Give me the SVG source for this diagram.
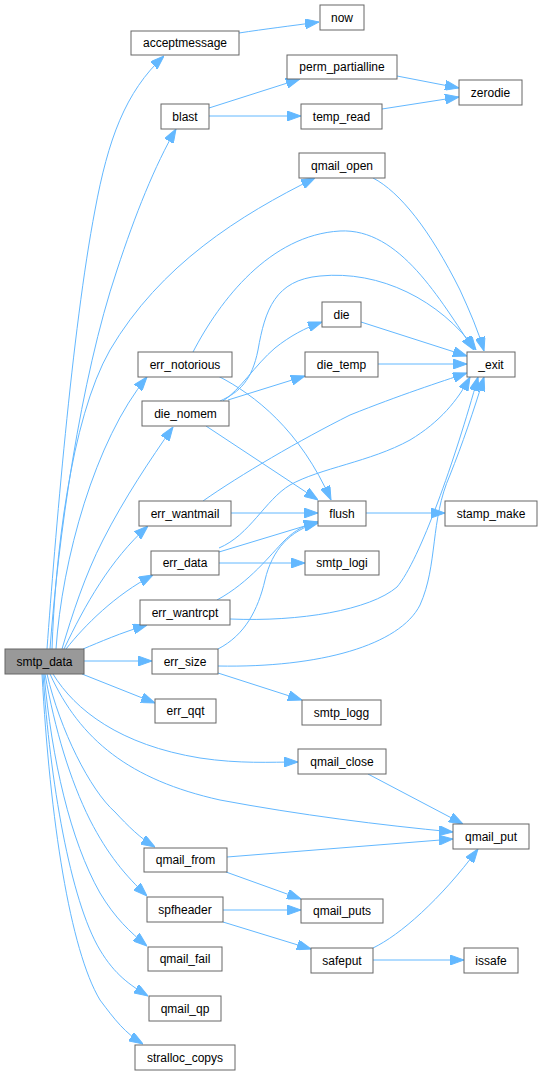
<svg xmlns="http://www.w3.org/2000/svg" width="542" height="1075" viewBox="0 0 542 1075">
<style>
.n rect{fill:#ffffff;stroke:#666666;stroke-width:1}
.n text{font-family:"Liberation Sans",Arial,sans-serif;font-size:12px;fill:#000000;text-anchor:middle}
#smtp_data rect{fill:#999999}
.e path{fill:none;stroke:#63b8ff;stroke-width:1;marker-end:url(#ah)}
</style>
<defs>
<marker id="ah" markerWidth="14" markerHeight="10" refX="14" refY="5" orient="auto" markerUnits="userSpaceOnUse">
<path d="M0,0 L14,5 L0,10 z" fill="#63b8ff" stroke="#63b8ff" stroke-width="1"/>
</marker>
</defs>
<rect width="542" height="1075" fill="#ffffff"/>
<g id="edges" class="e">
<path d="M47,649 C55,540 72,330 95,210 C108,140 125,92 164,56"/>
<path d="M50,649 C58,540 80,380 117,270 C135,215 155,165 176,129"/>
<path d="M52,649 C55,560 70,420 110,350 C160,265 240,215 315,178"/>
<path d="M56,649 C62,560 95,440 147,377"/>
<path d="M62,649 C72,615 85,575 103,540 C125,497 150,460 173,427"/>
<path d="M64,649 C85,605 110,560 148,526"/>
<path d="M66,649 C85,625 115,595 153,575"/>
<path d="M83,649 C100,642 120,633 147,625"/>
<path d="M84,661 L152,661"/>
<path d="M82,674 L155,703"/>
<path d="M53,674 C75,710 120,745 200,758 C240,764 270,762 298,762"/>
<path d="M50,674 C80,740 130,780 220,800 C300,815 380,825 453,832"/>
<path d="M47,674 C60,730 90,790 115,812 C128,826 140,838 155,847"/>
<path d="M45,674 C55,730 70,780 90,820 C108,855 125,875 147,896"/>
<path d="M44,674 C52,760 70,840 100,893 C115,918 130,932 147,946"/>
<path d="M43,674 C50,780 70,900 100,950 C115,975 130,985 148,996"/>
<path d="M42,674 C50,820 70,950 100,1000 C115,1020 125,1033 143,1044"/>
<path d="M239,33 C265,29 290,26 319,22"/>
<path d="M209,108 L300,79"/>
<path d="M209,116 L301,116"/>
<path d="M397,76 L459,88"/>
<path d="M382,109 L459,97"/>
<path d="M373,178 C400,192 430,230 460,290 C470,312 478,330 484,351"/>
<path d="M193,352 C220,300 270,235 340,231 C400,228 440,300 474,350"/>
<path d="M220,401 C240,392 252,380 258,350 C265,310 275,280 320,276 C380,270 440,300 476,350"/>
<path d="M223,401 C240,390 255,365 275,348 C290,336 305,328 322,322"/>
<path d="M228,400 L305,376"/>
<path d="M361,322 L467,356"/>
<path d="M378,364 L467,364"/>
<path d="M203,501 C240,475 300,440 350,415 C400,395 440,382 467,373"/>
<path d="M219,548 C250,535 265,500 290,485 C320,468 370,462 410,440 C440,422 458,400 470,377"/>
<path d="M230,619 C300,622 370,610 397,587 C420,560 455,460 478,377"/>
<path d="M218,666 C320,668 400,645 420,605 C438,565 430,520 450,475 C462,445 474,410 484,377"/>
<path d="M218,376 C255,395 300,430 331,500"/>
<path d="M206,426 L318,500"/>
<path d="M231,513 L318,513"/>
<path d="M219,552 L318,522"/>
<path d="M217,600 C250,582 270,555 285,540 C295,530 305,525 318,522"/>
<path d="M218,649 C245,635 258,610 265,580 C272,550 290,530 318,523"/>
<path d="M219,563 L305,563"/>
<path d="M218,673 L302,700"/>
<path d="M366,513 L445,513"/>
<path d="M368,774 L463,824"/>
<path d="M227,857 L453,839"/>
<path d="M226,872 L301,899"/>
<path d="M223,910 L301,910"/>
<path d="M223,922 L311,949"/>
<path d="M373,948 C400,935 440,900 478,849"/>
<path d="M373,960 L464,960"/>
</g>
<g id="now" class="n"><rect x="320" y="5" width="44" height="25"/><text x="342" y="21.5">now</text></g>
<g id="acceptmessage" class="n"><rect x="131" y="31" width="108" height="24"/><text x="185" y="47">acceptmessage</text></g>
<g id="perm_partialline" class="n"><rect x="287" y="55" width="110" height="24"/><text x="342" y="71">perm_partialline</text></g>
<g id="zerodie" class="n"><rect x="459" y="80" width="63" height="25"/><text x="490.5" y="96.5">zerodie</text></g>
<g id="blast" class="n"><rect x="161" y="104" width="48" height="25"/><text x="185" y="120.5">blast</text></g>
<g id="temp_read" class="n"><rect x="301" y="104" width="81" height="25"/><text x="341.5" y="120.5">temp_read</text></g>
<g id="qmail_open" class="n"><rect x="299" y="153" width="86" height="25"/><text x="342" y="169.5">qmail_open</text></g>
<g id="die" class="n"><rect x="322" y="302" width="39" height="25"/><text x="341.5" y="318.5">die</text></g>
<g id="err_notorious" class="n"><rect x="138" y="352" width="94" height="25"/><text x="185" y="368.5">err_notorious</text></g>
<g id="die_temp" class="n"><rect x="305" y="352" width="73" height="25"/><text x="341.5" y="368.5">die_temp</text></g>
<g id="_exit" class="n"><rect x="467" y="352" width="48" height="25"/><text x="491" y="368.5">_exit</text></g>
<g id="die_nomem" class="n"><rect x="142" y="401" width="87" height="25"/><text x="185.5" y="417.5">die_nomem</text></g>
<g id="err_wantmail" class="n"><rect x="139" y="501" width="92" height="25"/><text x="185" y="517.5">err_wantmail</text></g>
<g id="flush" class="n"><rect x="318" y="501" width="48" height="25"/><text x="342" y="517.5">flush</text></g>
<g id="stamp_make" class="n"><rect x="445" y="501" width="92" height="25"/><text x="491" y="517.5">stamp_make</text></g>
<g id="err_data" class="n"><rect x="151" y="551" width="68" height="24"/><text x="185" y="567">err_data</text></g>
<g id="smtp_logi" class="n"><rect x="305" y="551" width="74" height="24"/><text x="342" y="567">smtp_logi</text></g>
<g id="err_wantrcpt" class="n"><rect x="140" y="600" width="90" height="25"/><text x="185" y="616.5">err_wantrcpt</text></g>
<g id="smtp_data" class="n"><rect x="5" y="649" width="79" height="25"/><text x="44.5" y="665.5">smtp_data</text></g>
<g id="err_size" class="n"><rect x="152" y="649" width="66" height="25"/><text x="185" y="665.5">err_size</text></g>
<g id="err_qqt" class="n"><rect x="155" y="699" width="61" height="24"/><text x="185.5" y="715">err_qqt</text></g>
<g id="smtp_logg" class="n"><rect x="302" y="700" width="79" height="25"/><text x="341.5" y="716.5">smtp_logg</text></g>
<g id="qmail_close" class="n"><rect x="298" y="749" width="88" height="25"/><text x="342" y="765.5">qmail_close</text></g>
<g id="qmail_put" class="n"><rect x="453" y="824" width="76" height="25"/><text x="491" y="840.5">qmail_put</text></g>
<g id="qmail_from" class="n"><rect x="144" y="848" width="83" height="24"/><text x="185.5" y="864">qmail_from</text></g>
<g id="spfheader" class="n"><rect x="147" y="897" width="76" height="25"/><text x="185" y="913.5">spfheader</text></g>
<g id="qmail_puts" class="n"><rect x="301" y="899" width="82" height="24"/><text x="342" y="915">qmail_puts</text></g>
<g id="qmail_fail" class="n"><rect x="148" y="947" width="74" height="24"/><text x="185" y="963">qmail_fail</text></g>
<g id="safeput" class="n"><rect x="311" y="948" width="62" height="25"/><text x="342" y="964.5">safeput</text></g>
<g id="issafe" class="n"><rect x="464" y="948" width="54" height="25"/><text x="491" y="964.5">issafe</text></g>
<g id="qmail_qp" class="n"><rect x="149" y="996" width="72" height="25"/><text x="185" y="1012.5">qmail_qp</text></g>
<g id="stralloc_copys" class="n"><rect x="135" y="1045" width="100" height="25"/><text x="185" y="1061.5">stralloc_copys</text></g>
</svg>
